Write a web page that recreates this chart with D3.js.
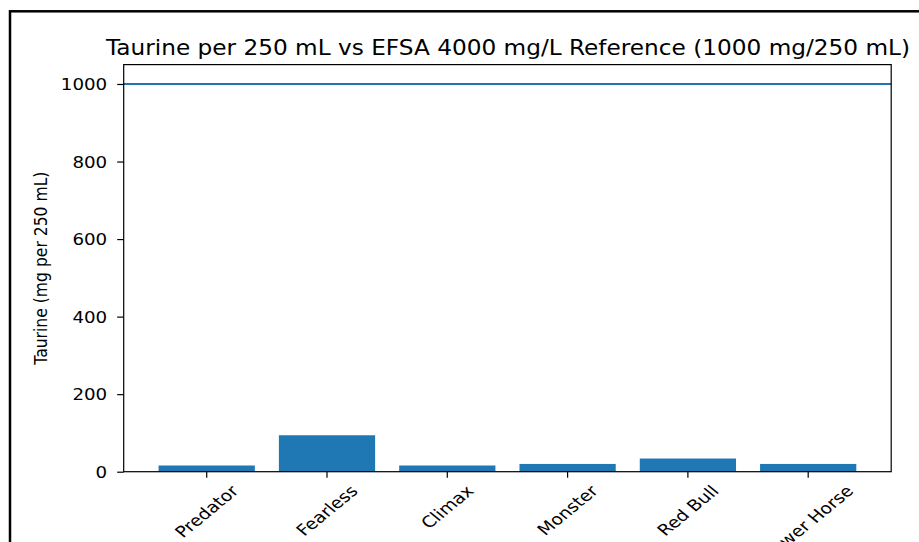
<!DOCTYPE html>
<html>
<head>
<meta charset="utf-8">
<script src="https://cdn.jsdelivr.net/npm/d3@7"></script>
<style>
  html, body { margin: 0; padding: 0; background: #fff; }
  svg { display: block; }
  text { font-family: "DejaVu Sans", sans-serif; fill: #000; }
</style>
</head>
<body>
<div id="chart"></div>
<script>
// values
var brands = ["Predator", "Fearless", "Climax", "Monster", "Red Bull", "Power Horse"];
var taurine = [16, 94, 16, 20, 34, 20];   // mg per 250 mL
var referenceLine = 1000;                  // EFSA 4000 mg/L -> 1000 mg/250 mL
var yTicks = [0, 200, 400, 600, 800, 1000];

var titleText = "Taurine per 250 mL vs EFSA 4000 mg/L Reference (1000 mg/250 mL)";
var yLabelText = "Taurine (mg per 250 mL)";

var W = 919, H = 542;
var margin = {top: 64.6, right: W - 891.2, bottom: H - 471.7, left: 123.7};
var stretch = 1.14; // the picture is a bit wider than tall

var svg = d3.select("#chart").append("svg")
    .attr("width", W)
    .attr("height", H);

// frame around the picture
svg.append("rect")
    .attr("x", 10).attr("y", 11.3)
    .attr("width", W).attr("height", H)
    .attr("fill", "none")
    .attr("stroke", "#000")
    .attr("stroke-width", 2.5);

var x = d3.scaleBand()
    .domain(brands)
    .range([margin.left, W - margin.right])
    .paddingInner(0.2)
    .paddingOuter(0.29);

var y = d3.scaleLinear()
    .domain([0, 1050])
    .range([H - margin.bottom, margin.top]);

// bars
svg.append("g")
  .selectAll("rect")
  .data(brands)
  .enter()
  .append("rect")
    .attr("x", function (d) { return x(d); })
    .attr("width", x.bandwidth())
    .attr("y", function (d, i) { return y(taurine[i]); })
    .attr("height", function (d, i) { return y(0) - y(taurine[i]); })
    .attr("fill", "#1f77b4");

// reference line
svg.append("line")
    .attr("x1", margin.left).attr("x2", W - margin.right)
    .attr("y1", y(referenceLine)).attr("y2", y(referenceLine))
    .attr("stroke", "#1f77b4")
    .attr("stroke-width", 2);

// axes
var yAxis = svg.append("g")
    .attr("transform", "translate(" + margin.left + ",0)")
    .call(d3.axisLeft(y).tickValues(yTicks).tickSize(6.5).tickPadding(10).tickFormat(d3.format("d")));

var xAxis = svg.append("g")
    .attr("transform", "translate(0," + y(0) + ")")
    .call(d3.axisBottom(x).tickSize(6).tickFormat(""));

svg.selectAll(".domain").remove();
svg.selectAll(".tick line").attr("stroke", "#000").attr("stroke-width", 1.2);

// spines
svg.append("rect")
    .attr("x", margin.left).attr("y", margin.top)
    .attr("width", W - margin.right - margin.left)
    .attr("height", y(0) - margin.top)
    .attr("fill", "none")
    .attr("stroke", "#000")
    .attr("stroke-width", 1.2);

// y tick labels, stretched like the picture
yAxis.selectAll(".tick text").each(function () {
  var t = d3.select(this);
  var tx = +t.attr("x");
  t.attr("x", null)
    .attr("font-size", 16)
    .attr("font-family", "DejaVu Sans")
    .attr("text-anchor", "end")
    .attr("dy", "0.36em")
    .attr("transform", "translate(" + tx + ",0) scale(" + stretch + ",1)");
});

// x tick labels, rotated 45 degrees (flattened a bit by the stretch)
var fs = 15.5, xs = 1.22;
xAxis.selectAll(".tick").each(function (d) {
  var g = d3.select(this);
  var t = g.append("text")
      .attr("font-size", fs)
      .attr("font-family", "DejaVu Sans")
      .attr("text-anchor", "middle")
      .attr("dominant-baseline", "central")
      .attr("fill", "#000")
      .text(d);
  var w = t.node().getComputedTextLength();
  var cy = 11 + (w + fs) * Math.SQRT1_2 / 2;
  t.attr("transform", "translate(0," + cy + ") scale(" + xs + ",1) rotate(-45)");
});

// title
svg.append("text")
    .attr("x", 106)
    .attr("y", 55)
    .attr("font-size", 20.5)
    .attr("textLength", 804)
    .attr("lengthAdjust", "spacingAndGlyphs")
    .text(titleText);

// y label
svg.append("text")
    .attr("font-size", 15.6)
    .attr("text-anchor", "middle")
    .attr("transform", "translate(47," + ((margin.top + y(0)) / 2) + ") scale(" + stretch + ",1) rotate(-90)")
    .text(yLabelText);
</script>
</body>
</html>
